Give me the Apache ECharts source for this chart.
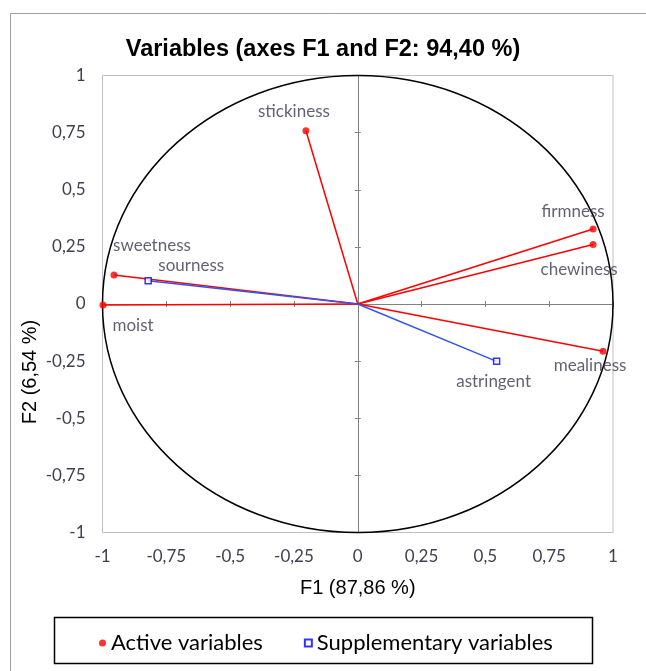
<!DOCTYPE html>
<html>
<head>
<meta charset="utf-8">
<script src="https://cdn.jsdelivr.net/npm/echarts@6/dist/echarts.min.js"></script>
<style>html,body{margin:0;padding:0;background:#fff;}#c{width:646px;height:671px;}</style>
</head>
<body>
<div id="c"></div>
<script>
// ---- data ----
const activeNames = ['stickiness', 'firmness', 'chewiness', 'mealiness', 'sweetness', 'moist'];
const activeF1 = [-0.203, 0.922, 0.922, 0.961, -0.955, -0.998];
const activeF2 = [0.758, 0.328, 0.260, -0.207, 0.127, -0.004];
const suppNames = ['sourness', 'astringent'];
const suppF1 = [-0.821, 0.544];
const suppF2 = [0.102, -0.251];
const tickValues = [-1, -0.75, -0.5, -0.25, 0, 0.25, 0.5, 0.75, 1];
const tickLabels = ['-1', '-0,75', '-0,5', '-0,25', '0', '0,25', '0,5', '0,75', '1'];
const titleText = 'Variables (axes F1 and F2: 94,40 %)';
const xName = 'F1 (87,86 %)';
const yName = 'F2 (6,54 %)';

// label placement (offsets from point, px)
const labelOffset = {
  stickiness: [-12, -19], firmness: [-20, -18], chewiness: [-14, 25], mealiness: [-13, 14],
  sweetness: [38, -29], moist: [30, 21], sourness: [43, -15], astringent: [-3, 20]
};

const fmt = v => { const i = tickValues.findIndex(t => Math.abs(t - v) < 1e-9); return i >= 0 ? tickLabels[i] : ''; };
const RED = '#ff0000', BLUE = '#0000ff', BLUELINE = '#3355ee';
const labelFont = 'Lato';

function mkItems(names, xs, ys) {
  return names.map((n, i) => ({
    name: n, value: [xs[i], ys[i]],
    label: { offset: labelOffset[n] }
  }));
}
function mkLines(names, xs, ys) {
  return names.map((n, i) => [{ coord: [0, 0] }, { coord: [xs[i], ys[i]] }]);
}
const labelCfg = { show: true, position: 'inside', formatter: '{b}', color: '#3a3a50', fontFamily: labelFont, fontSize: 17 };

const chart = echarts.init(document.getElementById('c'), null, { renderer: 'canvas' });
const grid = { left: 102.5, right: 33, top: 75.5, bottom: 138.5, show: true, borderColor: '#c0c0c0', borderWidth: 1, backgroundColor: '#fff' };
const baseAxis = { type: 'value', min: -1, max: 1, interval: 0.25, splitLine: { show: false } };
const zeroLine = { show: true, onZero: true, lineStyle: { color: '#808080', width: 1 } };
const zeroTick = { show: true, length: 3, lineStyle: { color: '#808080' } };
const tickLabelCfg = { formatter: fmt, color: '#404050', fontFamily: labelFont, fontSize: 17 };
const option = {
  animation: false,
  backgroundColor: '#fff',
  title: { text: titleText, left: 'center', top: 33, textStyle: { fontFamily: 'Liberation Sans', fontWeight: 'bold', fontSize: 23.5, color: '#000' } },
  grid: grid,
  xAxis: [
    Object.assign({}, baseAxis, { position: 'bottom', axisLine: { show: false, onZero: false }, axisTick: { show: false },
      axisLabel: Object.assign({ margin: 16 }, tickLabelCfg) }),
    Object.assign({}, baseAxis, { position: 'bottom', axisLine: zeroLine, axisTick: zeroTick, axisLabel: { show: false } }),
    Object.assign({}, baseAxis, { position: 'top', axisLine: zeroLine, axisTick: zeroTick, axisLabel: { show: false } })
  ],
  yAxis: [
    Object.assign({}, baseAxis, { position: 'left', axisLine: { show: false, onZero: false }, axisTick: { show: false },
      axisLabel: Object.assign({ margin: 17 }, tickLabelCfg) }),
    Object.assign({}, baseAxis, { position: 'left', axisLine: zeroLine, axisTick: zeroTick, axisLabel: { show: false } }),
    Object.assign({}, baseAxis, { position: 'right', axisLine: zeroLine, axisTick: zeroTick, axisLabel: { show: false } })
  ],
  legend: {
    left: 94, top: 627, itemWidth: 7, itemHeight: 7, itemGap: 41,
    textStyle: { fontFamily: 'Lato', fontSize: 22, color: '#000', padding: [0, 0, 0, 0] },
    data: [
      { name: 'Active variables', icon: 'circle' },
      { name: 'Supplementary variables', icon: 'rect' }
    ]
  },
  series: [
    {
      name: 'Active variables', type: 'scatter', symbol: 'circle', symbolSize: 7,
      itemStyle: { color: RED },
      label: labelCfg,
      data: mkItems(activeNames, activeF1, activeF2),
      markLine: { silent: true, symbol: 'none', animation: false, label: { show: false },
        lineStyle: { color: RED, width: 1.5, type: 'solid' }, data: mkLines(activeNames, activeF1, activeF2) },
      z: 5
    },
    {
      name: 'Supplementary variables', type: 'scatter', symbol: 'rect', symbolSize: 6,
      itemStyle: { color: '#ffffff', borderColor: BLUE, borderWidth: 1.5 },
      label: labelCfg,
      data: mkItems(suppNames, suppF1, suppF2),
      markLine: { silent: true, symbol: 'none', animation: false, label: { show: false },
        lineStyle: { color: BLUELINE, width: 1.5, type: 'solid' }, data: mkLines(suppNames, suppF1, suppF2) },
      z: 6
    }
  ]
};
chart.setOption(option);

// unit circle + frame + axis names, placed via the chart's own scales
const c0 = chart.convertToPixel({ seriesIndex: 0 }, [0, 0]);
const cx1 = chart.convertToPixel({ seriesIndex: 0 }, [1, 0]);
const cy1 = chart.convertToPixel({ seriesIndex: 0 }, [0, 1]);
const cym = chart.convertToPixel({ seriesIndex: 0 }, [0, -1]);
chart.setOption({
  graphic: [
    { type: 'rect', shape: { x: 10.5, y: 13.5, width: 800, height: 800 }, style: { fill: 'none', stroke: '#a0a0a0', lineWidth: 1 }, silent: true, z: -10 },
    { type: 'ellipse', shape: { cx: c0[0], cy: c0[1], rx: cx1[0] - c0[0], ry: c0[1] - cy1[1] }, style: { fill: 'none', stroke: '#000', lineWidth: 1.5 }, silent: true, z: 3 },
    { type: 'text', x: c0[0], y: cym[1] + 56, style: { text: xName, font: '20px "Liberation Sans"', fill: '#000', align: 'center', verticalAlign: 'middle' }, silent: true },
    { type: 'text', x: 30, y: 372, rotation: Math.PI / 2, style: { text: yName, font: '20px "Liberation Sans"', fill: '#000', align: 'center', verticalAlign: 'middle' }, silent: true },
    { type: 'rect', shape: { x: 54.5, y: 617.5, width: 538, height: 46 }, style: { fill: 'none', stroke: '#000', lineWidth: 1.5 }, silent: true }
  ]
});
</script>
</body>
</html>
